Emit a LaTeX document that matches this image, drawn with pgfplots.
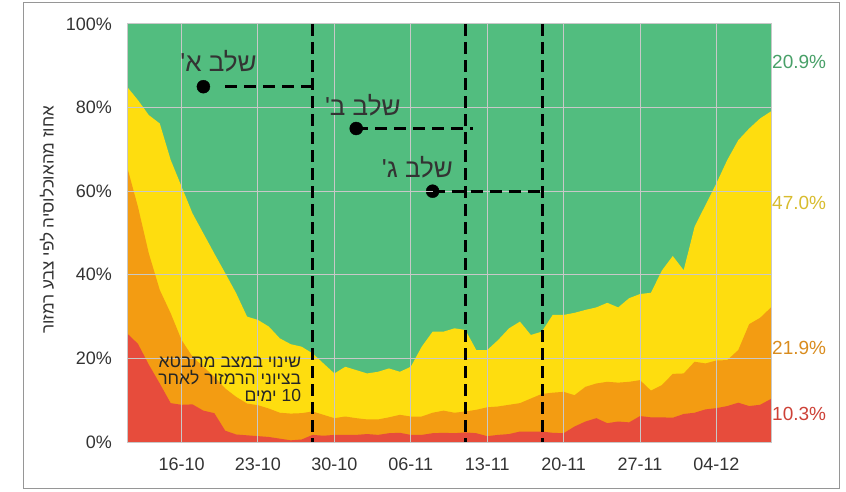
\documentclass[border=0pt]{standalone}
\usepackage{fontspec}
\setmainfont{Liberation Sans}
\newfontfamily\hebfont[Script=Hebrew]{Liberation Sans}
\TeXXeTstate=1
\usepackage{pgfplots}
\usepackage{pgfplotstable}
\pgfplotsset{compat=1.18}
\definecolor{cgreen}{RGB}{82,189,127}
\definecolor{cyellow}{RGB}{254,221,15}
\definecolor{corange}{RGB}{243,156,18}
\definecolor{cred}{RGB}{231,76,60}
\definecolor{gridgray}{RGB}{200,200,200}
\definecolor{txt}{RGB}{51,51,51}
\definecolor{lgreen}{RGB}{72,160,104}
\definecolor{lyellow}{RGB}{216,188,46}
\definecolor{lorange}{RGB}{217,140,30}
\definecolor{lred}{RGB}{205,65,55}
\definecolor{framegray}{RGB}{150,150,150}

\pgfplotstableread{
d R RO ROY
0 26.0 65.9 85.0
1 23.5 56.3 81.8
2 18.5 45.1 78.2
3 14.0 36.4 76.2
4 9.3 30.8 67.5
5 8.9 24.4 61.1
6 9.0 20.4 54.7
7 7.5 18.0 49.9
8 6.9 15.6 45.1
9 2.7 12.8 40.4
10 1.8 10.8 35.6
11 1.6 9.2 30.0
12 1.4 8.8 29.2
13 1.2 8.0 27.6
14 0.8 7.0 24.8
15 0.4 6.8 23.4
16 0.6 6.9 22.8
17 1.7 7.3 21.2
18 1.5 6.5 18.8
19 1.7 5.7 16.4
20 1.7 6.1 18.0
21 1.7 5.7 17.2
22 1.9 5.4 16.4
23 1.7 5.4 16.8
24 2.1 5.9 17.6
25 2.2 6.5 16.8
26 1.7 6.1 18.0
27 1.7 6.1 22.8
28 2.1 7.0 26.4
29 2.2 7.5 26.4
30 2.1 7.0 27.2
31 2.3 7.3 26.8
32 2.1 7.7 22.0
33 1.4 8.3 22.0
34 1.7 8.5 24.4
35 1.9 8.9 27.2
36 2.5 9.3 28.8
37 2.5 10.4 25.6
38 2.5 11.5 26.4
39 2.2 11.8 30.4
40 2.1 12.0 30.4
41 3.7 11.2 30.9
42 4.9 13.2 31.6
43 5.7 14.0 32.2
44 4.5 14.4 33.3
45 4.9 14.2 32.2
46 4.7 14.4 34.4
47 6.2 14.8 35.4
48 5.9 12.3 35.7
49 5.9 13.6 41.0
50 5.8 16.3 44.5
51 6.7 16.4 41.1
52 7.0 19.2 51.5
53 7.8 18.8 56.7
54 8.1 19.5 61.9
55 8.6 19.6 67.5
56 9.4 22.0 72.2
57 8.6 28.2 75.0
58 8.9 29.7 77.4
59 10.3 32.2 79.1
}\data

\begin{document}
\begin{tikzpicture}
\draw[framegray, line width=1pt] (-103pt,-46pt) rectangle (712pt,439.3pt);
\begin{axis}[
  set layers, axis on top,
  scale only axis, width=644pt, height=418pt,
  xmin=0, xmax=59, ymin=0, ymax=100,
  clip=false,
  axis line style={draw=gridgray, line width=1pt},
  grid=major, grid style={gridgray, line width=1pt},
  major tick length=0pt,
  xtick={5,12,19,26,33,40,47,54},
  xticklabels={16-10,23-10,30-10,06-11,13-11,20-11,27-11,04-12},
  ytick={0,20,40,60,80,100},
  yticklabels={0\%,20\%,40\%,60\%,80\%,100\%},
  tick label style={font=\fontsize{18}{20}\selectfont, text=txt, inner sep=0pt},
  xticklabel style={anchor=north, yshift=-16pt},
  yticklabel style={anchor=east, xshift=-15pt},
  /pgf/number format/assume math mode=true,
]
\addplot[fill=cgreen, draw=none] coordinates {(0,100) (59,100)} \closedcycle;
\addplot[fill=cyellow, draw=none] table[x=d,y=ROY]{\data} \closedcycle;
\addplot[fill=corange, draw=none] table[x=d,y=RO]{\data} \closedcycle;
\addplot[fill=cred, draw=none] table[x=d,y=R]{\data} \closedcycle;

% phase dashed lines
\addplot[on layer=axis foreground, black, line width=3.3pt, dash pattern=on 12pt off 6pt] coordinates {(17,100) (17,0)};
\addplot[on layer=axis foreground, black, line width=3.3pt, dash pattern=on 12pt off 6pt] coordinates {(31,100) (31,0)};
\addplot[on layer=axis foreground, black, line width=3.3pt, dash pattern=on 12pt off 6pt] coordinates {(38.05,100) (38.05,0)};
\addplot[on layer=axis foreground, black, line width=3.3pt, dash pattern=on 12pt off 7pt] coordinates {(9.0,85) (17.7,85)};
\addplot[on layer=axis foreground, black, line width=3.3pt, dash pattern=on 12pt off 7pt] coordinates {(21,75) (31.7,75)};
\addplot[on layer=axis foreground, black, line width=3.3pt, dash pattern=on 12pt off 7pt] coordinates {(28,60) (38.3,60)};
\addplot[on layer=axis foreground, only marks, mark=*, mark size=6.5pt, black] coordinates {(7,85) (21,75) (28,60)};

% stage labels
\addplot[on layer=axis foreground, draw=none] coordinates {(8.38,88.6)}
  node[anchor=base, inner sep=0pt, text=txt, font=\hebfont\fontsize{26}{28}\selectfont] {\beginR שלב א'\endR};
\addplot[on layer=axis foreground, draw=none] coordinates {(21.6,78.2)}
  node[anchor=base, inner sep=0pt, text=txt, font=\hebfont\fontsize{26}{28}\selectfont] {\beginR שלב ב'\endR};
\addplot[on layer=axis foreground, draw=none] coordinates {(26.6,63.3)}
  node[anchor=base, inner sep=0pt, text=txt, font=\hebfont\fontsize{26}{28}\selectfont] {\beginR שלב ג'\endR};

% note text
\addplot[on layer=axis foreground, draw=none] coordinates {(15.97,17.8)}
  node[anchor=base east, inner sep=0pt, text=black!85, font=\hebfont\fontsize{17.5}{19}\selectfont] {\beginR שינוי במצב מתבטא\endR};
\addplot[on layer=axis foreground, draw=none] coordinates {(15.97,13.8)}
  node[anchor=base east, inner sep=0pt, text=black!85, font=\hebfont\fontsize{17.5}{19}\selectfont] {\beginR בציוני הרמזור לאחר\endR};
\addplot[on layer=axis foreground, draw=none] coordinates {(15.97,9.8)}
  node[anchor=base east, inner sep=0pt, text=black!85, font=\hebfont\fontsize{17.5}{19}\selectfont] {\beginR\beginL 10\endL{} ימים\endR};

% end-value labels
\addplot[on layer=axis foreground, draw=none] coordinates {(59,91.0)}
  node[anchor=west, inner sep=0pt, xshift=1pt, text=lgreen, font=\fontsize{19}{21}\selectfont] {20.9\%};
\addplot[on layer=axis foreground, draw=none] coordinates {(59,57.2)}
  node[anchor=west, inner sep=0pt, xshift=1pt, text=lyellow, font=\fontsize{19}{21}\selectfont] {47.0\%};
\addplot[on layer=axis foreground, draw=none] coordinates {(59,22.4)}
  node[anchor=west, inner sep=0pt, xshift=1pt, text=lorange, font=\fontsize{19}{21}\selectfont] {21.9\%};
\addplot[on layer=axis foreground, draw=none] coordinates {(59,6.6)}
  node[anchor=west, inner sep=0pt, xshift=1pt, text=lred, font=\fontsize{19}{21}\selectfont] {10.3\%};
\end{axis}
\node[rotate=90, inner sep=0pt, text=txt, font=\hebfont\fontsize{17}{19}\selectfont] at (-80pt,222pt) {\beginR אחוז מהאוכלוסיה לפי צבע רמזור\endR};
\pgfresetboundingbox
\path[use as bounding box] (-127pt,-49pt) rectangle (719pt,442pt);
\end{tikzpicture}
\end{document}
